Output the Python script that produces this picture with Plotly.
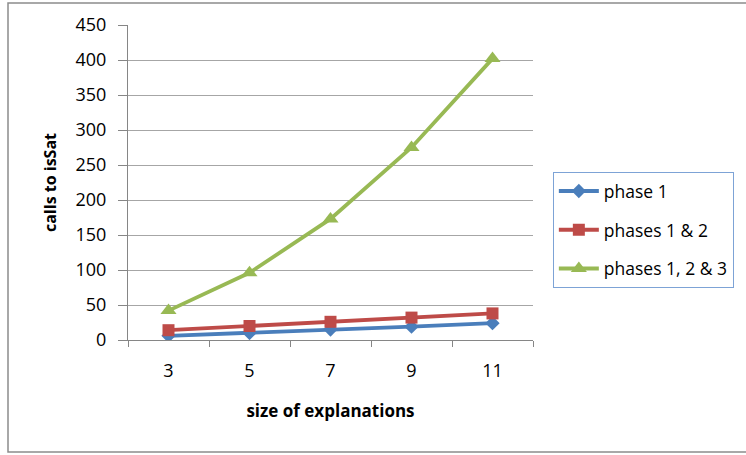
import plotly.graph_objects as go

# Explanation size vs. number of isSat calls for each phase combination
sizes = ["3", "5", "7", "9", "11"]
phase1 = [6, 10, 15, 19, 24]
phases12 = [14, 20, 26, 32, 38]
phases123 = [42, 96, 173, 275, 402]

series = [
    ("phase 1", phase1, "#4A7EBB", "diamond", 11),
    ("phases 1 & 2", phases12, "#BE4B48", "square", 12),
    ("phases 1, 2 & 3", phases123, "#98B954", "triangle-up", 14),
]

FONT = "Open Sans"

fig = go.Figure()
for i, (name, vals, color, symbol, msize) in enumerate(series):
    fig.add_trace(go.Scatter(
        x=sizes, y=vals, name=name, mode="lines+markers",
        line=dict(color=color, width=3.8),
        marker=dict(symbol=symbol, size=msize, color=color),
        legendgroup=f"g{i}",
    ))

fig.update_layout(
    width=746, height=455,
    margin=dict(l=128, r=213, t=25, b=115),
    paper_bgcolor="white", plot_bgcolor="white",
    font=dict(family=FONT, size=18, color="#000000"),
    showlegend=True,
    legend=dict(
        x=1.049, y=0.533, xanchor="left", yanchor="top",
        bordercolor="#7DA3D6", borderwidth=1, bgcolor="white",
        font=dict(family=FONT, size=17.5),
        itemwidth=40, tracegroupgap=13,
    ),
    shapes=[dict(
        type="rect", xref="paper", yref="paper",
        x0=-120 / 405, x1=630 / 405, y0=-112 / 315, y1=337 / 315,
        line=dict(color="#8C8C8C", width=1.5), fillcolor="rgba(0,0,0,0)",
        layer="below",
    )],
)

fig.update_xaxes(
    type="category", range=[-0.5, 4.5],
    showgrid=False, showline=True, linecolor="#868686", linewidth=1,
    ticks="outside", tickson="boundaries", ticklen=6, tickcolor="#868686",
    ticklabelstandoff=14,
    tickfont=dict(size=18),
    title=dict(text="<b>size of explanations</b>", font=dict(size=17), standoff=24),
)
fig.update_yaxes(
    range=[0, 450], dtick=50,
    showgrid=True, gridcolor="#A6A6A6", gridwidth=1,
    showline=True, linecolor="#868686", linewidth=1,
    ticks="outside", ticklen=9, tickcolor="#868686",
    ticklabelstandoff=8,
    tickfont=dict(size=18), zeroline=False,
    title=dict(text="<b>calls to isSat</b>", font=dict(size=16), standoff=14),
)

fig.write_html("out.html")
